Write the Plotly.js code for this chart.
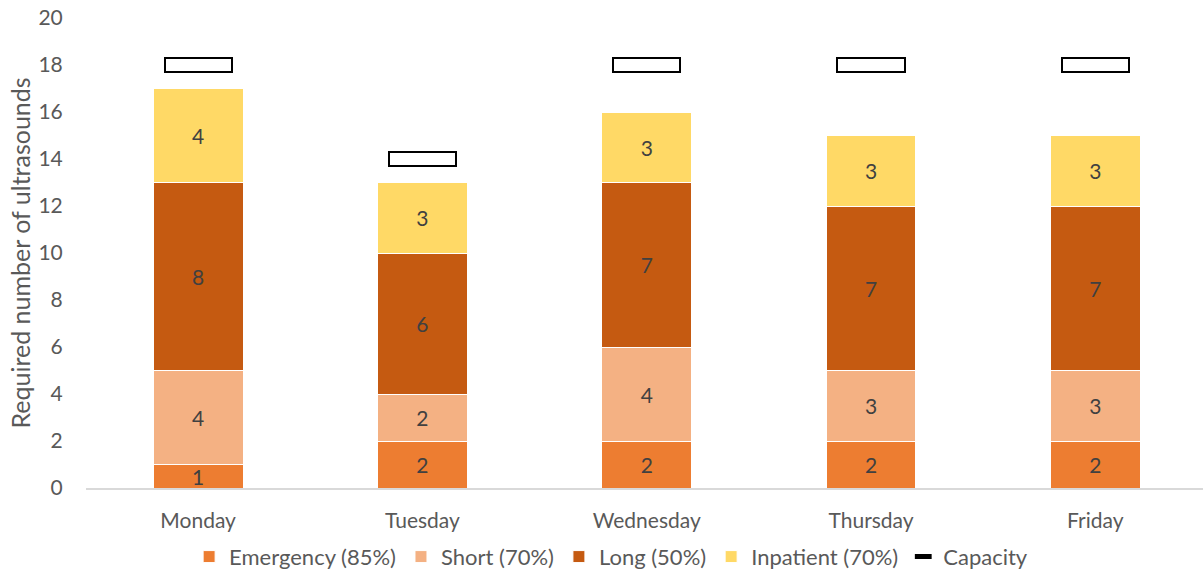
<!DOCTYPE html>
<html>
<head>
<meta charset="utf-8">
<script src="https://cdn.plot.ly/plotly-3.0.1.min.js"></script>
<style>
  html, body { margin: 0; padding: 0; background: #fff; }
  #chart { width: 1203px; height: 574px; }
</style>
</head>
<body>
<div id="chart"></div>
<script>
// Weekday ultrasound demand by patient group, with daily scanning capacity
const days = ['Monday', 'Tuesday', 'Wednesday', 'Thursday', 'Friday'];
const emergency = [1, 2, 2, 2, 2];
const shortStay = [4, 2, 4, 3, 3];
const longStay = [8, 6, 7, 7, 7];
const inpatient = [4, 3, 3, 3, 3];
const capacity = [18, 14, 18, 18, 18];

const seriesNames = ['Emergency (85%)', 'Short (70%)', 'Long (50%)', 'Inpatient (70%)'];
const seriesColors = ['#ED7D31', '#F4B183', '#C55A11', '#FFD966'];
const seriesValues = [emergency, shortStay, longStay, inpatient];

const fontFamily = 'Lato, "Open Sans", sans-serif';
const textGray = '#404040';
const axisGray = '#595959';

const traces = seriesValues.map((vals, i) => ({
  type: 'bar',
  name: seriesNames[i],
  x: days,
  y: vals,
  width: 0.4,
  marker: { color: seriesColors[i], line: { color: '#ffffff', width: 1 } },
  text: vals.map(String),
  textposition: 'inside',
  insidetextanchor: 'middle',
  textangle: 0,
  constraintext: 'none',
  textfont: { family: fontFamily, size: 21, color: textGray },
  hoverinfo: 'x+y+name'
}));

// Capacity drawn as a thin outlined box centred on each day's capacity level
const capThickness = 0.6;
traces.push({
  type: 'bar',
  name: 'Capacity',
  legendgroup: 'cap',
  showlegend: false,
  x: days,
  y: capacity.map(() => capThickness),
  base: capacity.map(c => c - capThickness / 2),
  width: 0.3,
  xaxis: 'x2',
  marker: { color: '#ffffff', line: { color: '#000000', width: 2 } },
  customdata: capacity,
  hovertemplate: 'Capacity: %{customdata}<extra></extra>'
});

// Legend key for capacity: a short dash
traces.push({
  type: 'scatter',
  mode: 'markers',
  name: 'Capacity',
  legendgroup: 'cap',
  x: [null],
  y: [null],
  marker: { symbol: 'line-ew-open', size: 12, color: '#000000', line: { color: '#000000', width: 5 } },
  hoverinfo: 'skip'
});

const layout = {
  width: 1203,
  height: 574,
  margin: { l: 86, r: 0, t: 18, b: 86 },
  paper_bgcolor: '#ffffff',
  plot_bgcolor: '#ffffff',
  barmode: 'stack',
  font: { family: fontFamily, color: axisGray, size: 21 },
  showlegend: true,
  legend: {
    orientation: 'h',
    xref: 'container',
    yref: 'container',
    x: 0.508,
    xanchor: 'center',
    y: 0.03,
    yanchor: 'middle',
    font: { family: fontFamily, size: 22, color: axisGray },
    traceorder: 'normal',
    itemwidth: 30
  },
  xaxis: {
    type: 'category',
    range: [-0.5, 4.48],
    showgrid: false,
    zeroline: false,
    showline: true,
    linecolor: '#D9D9D9',
    linewidth: 2,
    ticks: 'outside',
    ticklen: 13,
    tickcolor: 'rgba(0,0,0,0)',
    tickfont: { family: fontFamily, size: 21, color: axisGray },
    fixedrange: true
  },
  xaxis2: {
    type: 'category',
    overlaying: 'x',
    matches: 'x',
    range: [-0.5, 4.48],
    visible: false
  },
  yaxis: {
    range: [0, 20],
    dtick: 2,
    showgrid: false,
    zeroline: false,
    showline: false,
    ticks: 'outside',
    ticklen: 18,
    tickcolor: 'rgba(0,0,0,0)',
    tickfont: { family: fontFamily, size: 21, color: axisGray },
    title: {
      text: 'Required number of ultrasounds',
      font: { family: fontFamily, size: 25, color: axisGray },
      standoff: 0
    },
    automargin: false
  }
};

Plotly.newPlot('chart', traces, layout, { displayModeBar: false, responsive: false });
</script>
</body>
</html>
